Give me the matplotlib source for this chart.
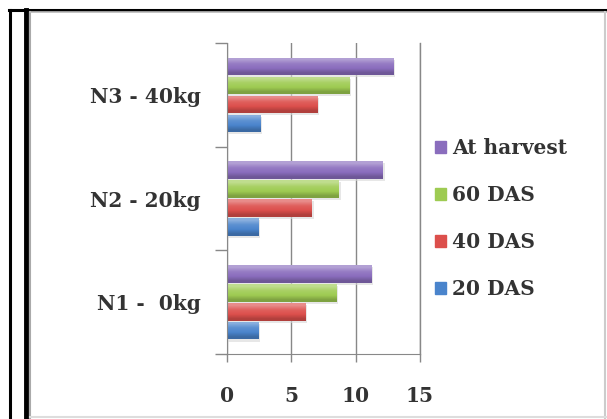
import numpy as np
import matplotlib.pyplot as plt
from matplotlib.patches import Rectangle
from matplotlib.lines import Line2D
from matplotlib.colors import to_rgb

plt.rcParams["font.family"] = ["DejaVu Serif"]

# data
groups = ["N1 -  0kg", "N2 - 20kg", "N3 - 40kg"]
series = ["20 DAS", "40 DAS", "60 DAS", "At harvest"]
das20 = [2.45, 2.45, 2.6]
das40 = [6.1, 6.6, 7.0]
das60 = [8.5, 8.7, 9.5]
harvest = [11.2, 12.1, 12.9]
values = [das20, das40, das60, harvest]
colors = ["#4a84cc", "#dc4f4c", "#9ecb52", "#8a6dbd"]

fig = plt.figure(figsize=(6.07, 4.19), dpi=100)
ax = fig.add_axes([0.374, 0.155, 0.318, 0.742])

step = 0.183
hgt = 0.17
y = np.arange(len(groups))


def shade(c, f):
    r, g, b = to_rgb(c)
    if f > 0:
        return (r + (1 - r) * f, g + (1 - g) * f, b + (1 - b) * f)
    return (r * (1 + f), g * (1 + f), b * (1 + f))


for i, (vals, c) in enumerate(zip(values, colors)):
    pos = y + (i - 1.5) * step
    bars = ax.barh(pos, vals, height=hgt, color=c, edgecolor="none", zorder=3)
    # vertical gradient, lighter on top (first row is the bottom)
    grad = np.array([shade(c, -0.2), shade(c, 0.0), shade(c, 0.1), shade(c, 0.35)])
    grad = grad[:, None, :]
    for b in bars:
        x0, y0 = b.get_x(), b.get_y()
        w, h = b.get_width(), b.get_height()
        im = ax.imshow(grad, extent=(x0, x0 + w, y0, y0 + h), origin="lower",
                       aspect="auto", interpolation="bilinear", zorder=4)
        im.set_clip_path(b)
    # faint shadow
    ax.barh(pos - 0.02, np.array(vals) + 0.15, height=hgt, color="#d8d8d8",
            edgecolor="none", zorder=2, alpha=0.6)

ax.set_xlim(0, 15)
ax.set_ylim(-0.5, 2.5)
ax.set_xticks([0, 5, 10, 15])
ax.set_yticks(y)
ax.set_yticklabels(groups)
ax.set_yticks([-0.5, 0.5, 1.5, 2.5], minor=True)
ax.tick_params(axis="y", which="major", length=0, pad=19, labelsize=14.5)
ax.tick_params(axis="y", which="minor", length=9, color="#888888", width=1)
ax.tick_params(axis="x", length=6, color="#888888", width=1, pad=17, labelsize=14.5)
for t in ax.get_yticklabels() + ax.get_xticklabels():
    t.set_color("#333333")
    t.set_fontweight("bold")

ax.grid(axis="x", color="#888888", linewidth=1, zorder=0)
ax.axvline(15, color="#888888", linewidth=1, zorder=0, clip_on=False)
ax.set_axisbelow(True)
for s in ["top", "right"]:
    ax.spines[s].set_visible(False)
for s in ["left", "bottom"]:
    ax.spines[s].set_color("#888888")
    ax.spines[s].set_zorder(5)

handles = [Rectangle((0, 0), 1, 1, color=c) for c in colors[::-1]]
leg = fig.legend(handles, series[::-1], loc="center left",
                 bbox_to_anchor=(0.687, 0.478), frameon=False,
                 handlelength=0.55, handleheight=0.55, handletextpad=0.3,
                 labelspacing=1.35, prop={"size": 14.5, "weight": "bold"})
for t in leg.get_texts():
    t.set_color("#333333")

# picture frame
fig.add_artist(Line2D([9 / 607, 1], [1 - 10 / 419] * 2, color="black", lw=2.2))
fig.add_artist(Line2D([10 / 607] * 2, [0, 1 - 10 / 419], color="black", lw=2.2))
fig.add_artist(Line2D([26 / 607] * 2, [0, 1 - 10 / 419], color="black", lw=3.5))
fig.add_artist(Line2D([30 / 607] * 2, [0, 1 - 12 / 419], color="#aaaaaa", lw=1.5))
fig.add_artist(Line2D([30 / 607, 1], [1 - 12 / 419] * 2, color="#bbbbbb", lw=1.2))
fig.add_artist(Line2D([605 / 607] * 2, [0, 1 - 12 / 419], color="#cccccc", lw=1.5))
fig.add_artist(Line2D([30 / 607, 1], [2 / 419] * 2, color="#dddddd", lw=1.5))

fig.savefig("out.png", dpi=100)
